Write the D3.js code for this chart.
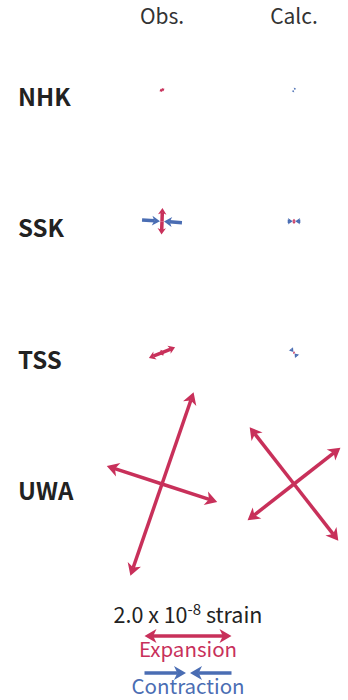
<!DOCTYPE html>
<html>
<head>
<meta charset="utf-8">
<script src="https://cdn.jsdelivr.net/npm/d3@7"></script>
<style>
  body { margin: 0; background: #fff; }
  text { font-family: "Noto Sans CJK JP", "Noto Sans", sans-serif; }
</style>
</head>
<body>
<script>
// strain values in units of 1e-8, + = expansion, - = contraction, azimuth in deg from north
const stations = ["NHK", "SSK", "TSS", "UWA"]
const columns = ["Obs.", "Calc."]

const obsE1 = [0.13, 0.61, 0.65, 4.46]
const obsAz1 = [62, 2, 68, 19]
const obsE2 = [0.04, -0.92, 0.15, 2.67]
const obsAz2 = [152, 94, 158, 108]

const calcE1 = [0.02, 0.12, 0.06, 3.31]
const calcAz1 = [120, 0, 51, 142]
const calcE2 = [-0.09, -0.29, -0.22, 2.71]
const calcAz2 = [30, 90, 141, 52]

const scaleValue = 2.0

const red = "#c8305a"
const blue = "#4a6db3"

const svg = d3.select("body").append("svg").attr("width", 348).attr("height", 700)

const x = d3.scalePoint().domain(columns).range([162, 294])
const y = d3.scalePoint().domain(stations).range([90, 484])
const len = d3.scaleLinear().domain([0, 2]).range([0, 43.5])

// column titles and station names
svg.selectAll(".col").data(columns).enter().append("text")
  .attr("x", d => x(d)).attr("y", 24)
  .attr("text-anchor", "middle").attr("font-size", 21).attr("fill", "#333")
  .text(d => d)

svg.selectAll(".stn").data(stations).enter().append("text")
  .attr("x", 18).attr("y", d => y(d) + 16)
  .attr("font-size", 24).attr("font-weight", 700).attr("fill", "#222")
  .text(d => d)

function head(tx, ty, ux, uy, h, w) {
  const nx = -uy, ny = ux
  const bx = tx - ux * h, by = ty - uy * h
  const mx = tx - ux * h * 0.72, my = ty - uy * h * 0.72
  return "M" + tx + "," + ty + "L" + (bx + nx * w) + "," + (by + ny * w) +
    "L" + mx + "," + my + "L" + (bx - nx * w) + "," + (by - ny * w) + "Z"
}

// one double arm: expansion points out, contraction points in
function axis(g, cx, cy, value, az) {
  const half = len(Math.abs(value))
  if (half < 0.5) return
  const a = az * Math.PI / 180
  const dx = Math.sin(a), dy = -Math.cos(a)
  const h = Math.min(12, 3.5 + half * 0.22, half * 0.85)
  const w = 0.5 * h + 0.5 + Math.min(0.5, half * 0.05)
  const sw = Math.min(3.5, half * 0.6 + 0.8)
  const col = value > 0 ? red : blue
  const gap = value > 0 ? 0 : Math.min(2, half * 0.2)
  for (const s of [1, -1]) {
    const ux = dx * s, uy = dy * s
    if (value > 0) {
      const tx = cx + ux * half, ty = cy + uy * half
      g.append("line").attr("x1", cx).attr("y1", cy)
        .attr("x2", tx - ux * h * 0.7).attr("y2", ty - uy * h * 0.7)
        .attr("stroke", col).attr("stroke-width", sw)
      g.append("path").attr("d", head(tx, ty, ux, uy, h, w)).attr("fill", col)
    } else {
      const ox = cx + ux * half, oy = cy + uy * half
      const tx = cx + ux * gap, ty = cy + uy * gap
      g.append("line").attr("x1", ox).attr("y1", oy)
        .attr("x2", tx + ux * h * 0.7).attr("y2", ty + uy * h * 0.7)
        .attr("stroke", col).attr("stroke-width", sw)
      g.append("path").attr("d", head(tx, ty, -ux, -uy, h, w)).attr("fill", col)
    }
  }
}

function station(cx, cy, e1, a1, e2, a2) {
  const g = svg.append("g")
  // contraction underneath, expansion on top
  const arms = [[e1, a1], [e2, a2]].sort((p, q) => p[0] - q[0])
  arms.forEach(p => axis(g, cx, cy, p[0], p[1]))
}

stations.forEach((s, i) => {
  station(x("Obs."), y(s), obsE1[i], obsAz1[i], obsE2[i], obsAz2[i])
  station(x("Calc."), y(s), calcE1[i], calcAz1[i], calcE2[i], calcAz2[i])
})

// scale legend
const lx = 188
const lt = svg.append("text").attr("x", lx).attr("y", 623)
  .attr("text-anchor", "middle").attr("font-size", 21.5).attr("fill", "#222")
lt.append("tspan").text("2.0 x 10")
lt.append("tspan").attr("dy", -8).attr("font-size", 15).text("-8")
lt.append("tspan").attr("dy", 8).text(" strain")

axis(svg.append("g"), lx, 636, scaleValue, 90)
svg.append("text").attr("x", lx).attr("y", 657).attr("text-anchor", "middle")
  .attr("font-size", 20.5).attr("fill", red).text("Expansion")

axis(svg.append("g"), lx, 673, -scaleValue, 90)
svg.append("text").attr("x", lx).attr("y", 694).attr("text-anchor", "middle")
  .attr("font-size", 20.5).attr("fill", blue).text("Contraction")
</script>
</body>
</html>
